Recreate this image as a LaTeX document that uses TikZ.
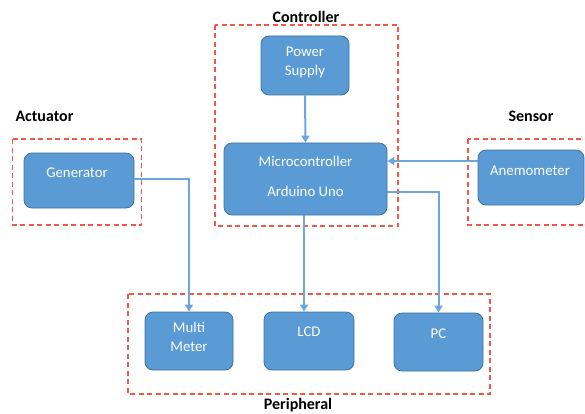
\documentclass[tikz,border=0pt]{standalone}
\usepackage{fontspec}
\setmainfont{Carlito}
\usetikzlibrary{arrows.meta}
\definecolor{boxfill}{HTML}{5B9BD5}
\definecolor{boxborder}{HTML}{41719C}
\definecolor{linkblue}{HTML}{6EA6DC}
\definecolor{grpred}{HTML}{F4574A}
\begin{document}
\begin{tikzpicture}[x=1pt,y=-1pt,
 blk/.style={draw=boxborder, fill=boxfill, rounded corners=8pt, line width=0.8pt, inner sep=0pt},
 btxt/.style={text=white, font=\fontsize{14.8}{19.5}\selectfont, align=center, inner sep=0pt},
 grp/.style={draw=grpred, dash pattern=on 5pt off 3.5pt, line width=1.1pt},
 lbl/.style={font=\bfseries\fontsize{16}{19}\selectfont, inner sep=0pt},
 conn/.style={draw=linkblue, line width=2pt, -{Triangle[length=7pt,width=8pt]}}]
\useasboundingbox (0,0) rectangle (585,414);
% group frames
\draw[grp] (215,25) rectangle (398,226);
\draw[grp] (12.5,139) rectangle (141.5,225);
\draw[grp] (468,139) rectangle (600,225);
\draw[grp] (128,294) rectangle (490,394);
% group labels
\node[lbl] (lc) at (306,17) {Controller};
\node[lbl] (la) at (44.5,116) {Actuator};
\node[lbl] (ls) at (531,116) {Sensor};
\node[lbl] (lp) at (298,405) {Peripheral};
% boxes
\node[blk, minimum width=88pt, minimum height=59pt] (pwr) at (305,65.5) {};
\node[blk, minimum width=163pt, minimum height=72pt] (mcu) at (305.5,179) {};
\node[blk, minimum width=110pt, minimum height=55pt] (gen) at (79,180.5) {};
\node[blk, minimum width=106pt, minimum height=55pt] (ane) at (531,177.5) {};
\node[blk, minimum width=88pt, minimum height=58pt] (mm) at (189,341) {};
\node[blk, minimum width=90pt, minimum height=58pt] (lcd) at (309,341) {};
\node[blk, minimum width=89pt, minimum height=58pt] (pc) at (438.5,342) {};
% box texts
\node[btxt] (pwrt) at (305,62.5) {Power\\Supply};
\node[btxt] (mcut1) at (305.5,161) {Microcontroller};
\node[btxt] (mcut2) at (305.5,191) {Arduino Uno};
\node[btxt] (gent) at (77,173) {Generator};
\node[btxt] (anet) at (530,171) {Anemometer};
\node[btxt] (mmt) at (189,337) {Multi\\Meter};
\node[btxt] (lcdt) at (309,332) {LCD};
\node[btxt] (pct) at (438.5,334) {PC};
% connectors
\draw[conn] (pwr.south) -- (mcu.north);
\draw[conn] (mcu.south -| 304,0) -- (lcd.north -| 304,0);
\coordinate (g1) at ([yshift=1.5pt]gen.east);
\draw[conn] (g1) -| (mm.north);
\coordinate (m1) at ([yshift=-13pt]mcu.east);
\draw[conn] (m1) -| (pc.north);
\coordinate (a1) at ([yshift=16.5pt]ane.west);
\draw[conn] (a1) -- (a1 -| mcu.east);
\end{tikzpicture}
\end{document}
